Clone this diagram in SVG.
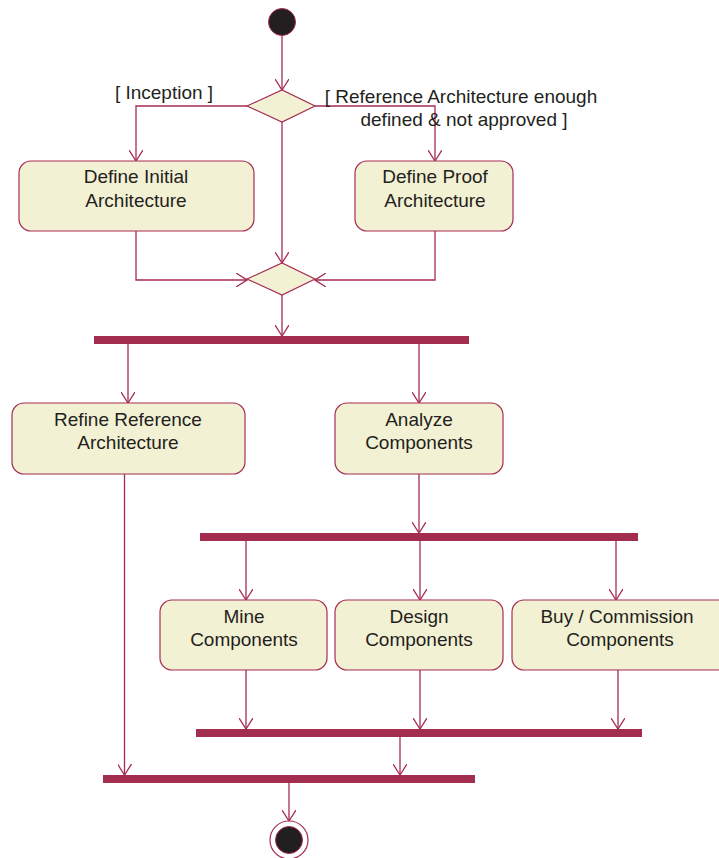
<svg xmlns="http://www.w3.org/2000/svg" width="719" height="858" viewBox="0 0 719 858">
<style>
.act{fill:#f3f1d4;stroke:#a52d52;stroke-width:1.2}
.dec{fill:#f3f1d4;stroke:#a52d52;stroke-width:1.2}
.bar{fill:#a32d4f}
.t{font-family:"Liberation Sans",Arial,sans-serif;font-size:19px;fill:#231f20;text-anchor:middle}
.c{fill:none;stroke:#a52d52;stroke-width:1.3}
</style>
<defs>
<marker id="ah" viewBox="0 0 12 14" refX="11" refY="7" markerWidth="12" markerHeight="14" markerUnits="userSpaceOnUse" orient="auto">
<path d="M0,0 L11,7 L0,14" fill="none" stroke="#a52d52" stroke-width="1.3"/>
</marker>
</defs>
<rect width="719" height="858" fill="#fff"/>

<g id="connectors" class="c" marker-end="url(#ah)">
<path d="M282,36 V90"/>
<path d="M247,106 H136 V161"/>
<path d="M315,106 H435 V161"/>
<path d="M282,122 V263"/>
<path d="M136,231 V280 H247"/>
<path d="M435,231 V280 H315"/>
<path d="M282,295 V336"/>
<path d="M128,344 V403"/>
<path d="M419,344 V403"/>
<path d="M419,474 V533"/>
<path d="M246,541 V600"/>
<path d="M420,541 V600"/>
<path d="M616,541 V600"/>
<path d="M246,670 V729"/>
<path d="M420,670 V729"/>
<path d="M618,670 V729"/>
<path d="M400,737 V775"/>
<path d="M124.5,474 V775"/>
<path d="M289,783 V821"/>
</g>

<g id="start"><circle cx="282" cy="22" r="13.5" fill="#231f20" stroke="#a52d52" stroke-width="1"/></g>

<g id="decision1"><polygon class="dec" points="247,106 282,90 315,106 282,122"/></g>
<g id="guard-inception"><text class="t" x="164" y="99">[ Inception ]</text></g>
<g id="guard-reference"><text class="t" x="461" y="103">[ Reference Architecture enough</text><text class="t" x="464" y="126">defined &amp; not approved ]</text></g>

<g id="define-initial"><rect class="act" x="19" y="161" width="235" height="70" rx="12"/><text class="t" x="136" y="183">Define Initial</text><text class="t" x="136" y="207">Architecture</text></g>
<g id="define-proof"><rect class="act" x="355" y="161" width="158" height="70" rx="12"/><text class="t" x="435" y="183">Define Proof</text><text class="t" x="435" y="207">Architecture</text></g>

<g id="merge1"><polygon class="dec" points="247,279 282,263 315,279 282,295"/></g>

<g id="fork1"><rect class="bar" x="94" y="336" width="375" height="8"/></g>

<g id="refine"><rect class="act" x="12" y="403" width="233" height="71" rx="12"/><text class="t" x="128" y="426">Refine Reference</text><text class="t" x="128" y="449">Architecture</text></g>
<g id="analyze"><rect class="act" x="335" y="403" width="168" height="71" rx="12"/><text class="t" x="419" y="426">Analyze</text><text class="t" x="419" y="449">Components</text></g>

<g id="fork2"><rect class="bar" x="200" y="533" width="438" height="8"/></g>

<g id="mine"><rect class="act" x="160" y="600" width="167" height="70" rx="12"/><text class="t" x="244" y="623">Mine</text><text class="t" x="244" y="646">Components</text></g>
<g id="design"><rect class="act" x="335" y="600" width="168" height="70" rx="12"/><text class="t" x="419" y="623">Design</text><text class="t" x="419" y="646">Components</text></g>
<g id="buy"><rect class="act" x="512" y="600" width="220" height="70" rx="12"/><text class="t" x="617" y="623">Buy / Commission</text><text class="t" x="620" y="646">Components</text></g>

<g id="join1"><rect class="bar" x="196" y="729" width="446" height="8"/></g>
<g id="join2"><rect class="bar" x="103" y="775" width="372" height="8"/></g>

<g id="end"><circle cx="289" cy="840" r="19" fill="#fff" stroke="#a52d52" stroke-width="1.2"/><circle cx="289" cy="840" r="13.5" fill="#231f20" stroke="#a52d52" stroke-width="1"/></g>
</svg>
